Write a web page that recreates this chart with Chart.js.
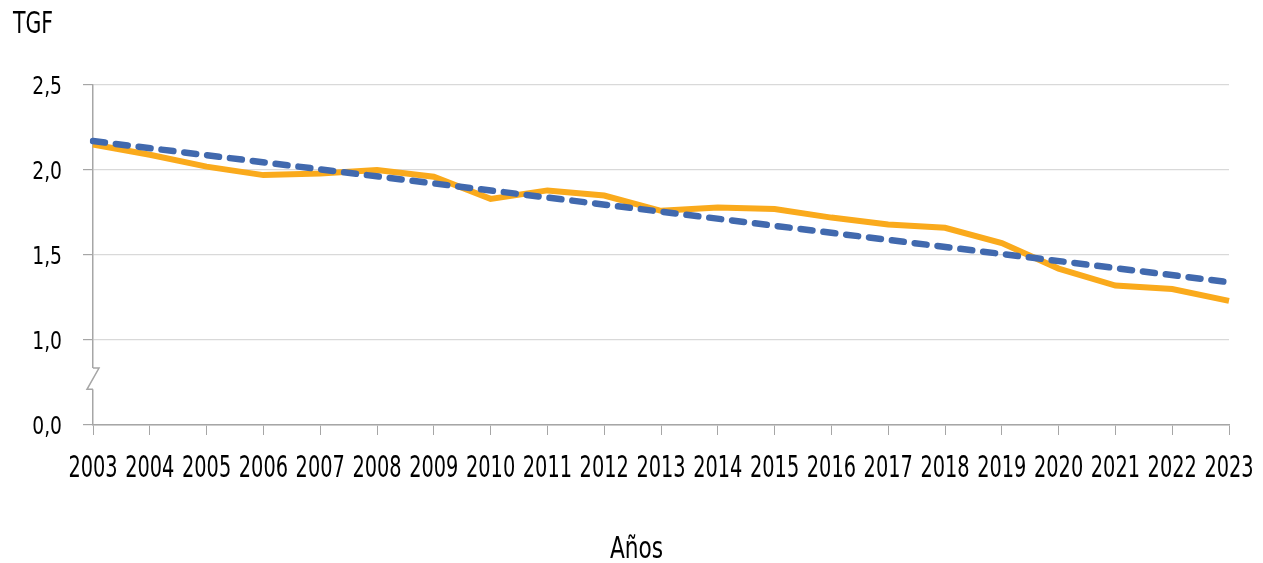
<!DOCTYPE html>
<html>
<head>
<meta charset="utf-8">
<script src="https://cdn.jsdelivr.net/npm/chart.js@4"></script>
<style>
  html, body { margin: 0; padding: 0; background: #fff; }
  #wrap { width: 1263px; height: 563px; position: relative; }
</style>
</head>
<body>
<div id="wrap"><canvas id="chart-tgf"></canvas></div>
<script>
// Datos
const years = ['2003','2004','2005','2006','2007','2008','2009','2010','2011','2012','2013',
  '2014','2015','2016','2017','2018','2019','2020','2021','2022','2023'];
const tgf = [2.15, 2.09, 2.02, 1.97, 1.98, 2.00, 1.96, 1.83, 1.88, 1.85, 1.76,
  1.78, 1.77, 1.72, 1.68, 1.66, 1.57, 1.42, 1.32, 1.30, 1.23];
// tendencia lineal: solo los extremos, la recta se traza entre ellos
const trend = [2.17, null, null, null, null, null, null, null, null, null, null,
  null, null, null, null, null, null, null, null, null, 1.34];
// eje Y cortado: el primer valor se rotula como 0,0
const yTickValues = [0.5, 1.0, 1.5, 2.0, 2.5];
const yTickLabels = ['0,0', '1,0', '1,5', '2,0', '2,5'];
const axisBreak = [0.71, 0.835];

const FONT = '"DejaVu Sans", sans-serif';

// texto estrecho (la fuente original es condensada)
function narrowText(ctx, text, x, y, size, squeeze, align) {
  ctx.save();
  ctx.font = size + 'px ' + FONT;
  ctx.translate(x, y);
  ctx.scale(squeeze, 1);
  ctx.textAlign = align;
  ctx.textBaseline = 'alphabetic';
  ctx.fillText(text, 0, 0);
  ctx.restore();
}

// Rótulos, títulos y corte del eje
const extras = {
  id: 'extras',
  afterDraw(chart) {
    const ctx = chart.ctx;
    const xs = chart.scales.x;
    const ys = chart.scales.y;
    const x0 = chart.chartArea.left;
    ctx.save();
    ctx.fillStyle = '#000';

    narrowText(ctx, 'TGF', 13, 33, 31, 0.66, 'left');
    narrowText(ctx, 'Años', chart.width / 2 + 5, 558, 31, 0.70, 'center');

    xs.ticks.forEach((t, i) => {
      narrowText(ctx, years[i], xs.getPixelForTick(i), 477, 30, 0.645, 'center');
    });
    yTickValues.forEach((v, i) => {
      narrowText(ctx, yTickLabels[i], 62, ys.getPixelForValue(v) + 9, 24, 0.78, 'right');
    });

    const yb = ys.getPixelForValue(axisBreak[0]);
    const yt = ys.getPixelForValue(axisBreak[1]);
    ctx.fillStyle = '#fff';
    ctx.fillRect(x0 - 2, yt, 4, yb - yt);
    ctx.strokeStyle = '#a6a6a6';
    ctx.lineWidth = 1.5;
    ctx.beginPath();
    ctx.moveTo(x0, yt);
    ctx.lineTo(x0 + 6, yt);
    ctx.lineTo(x0 - 6, yb);
    ctx.lineTo(x0, yb);
    ctx.stroke();
    ctx.restore();
  }
};

const ctxTgf = document.getElementById('chart-tgf');
new Chart(ctxTgf, {
  type: 'line',
  data: {
    labels: years,
    datasets: [{
      label: 'TGF',
      data: tgf,
      borderColor: '#FAAA1C',
      borderWidth: 6,
      pointRadius: 0,
      tension: 0,
      order: 1
    }, {
      label: 'Tendencia',
      data: trend,
      borderColor: '#4169AE',
      borderWidth: 6.5,
      borderDash: [12, 11],
      borderCapStyle: 'round',
      pointRadius: 0,
      spanGaps: true,
      order: 0
    }]
  },
  options: {
    responsive: true,
    maintainAspectRatio: false,
    animation: false,
    layout: { padding: { top: 85, right: 34, left: 0, bottom: 0 } },
    plugins: {
      legend: { display: false },
      tooltip: { enabled: false }
    },
    scales: {
      x: {
        offset: false,
        grid: {
          display: true,
          drawOnChartArea: false,
          drawTicks: true,
          tickLength: 10,
          tickColor: '#a6a6a6'
        },
        border: { color: '#a6a6a6', width: 1.5 },
        ticks: { display: false, autoSkip: false, maxRotation: 0 },
        afterFit(scale) { scale.height = 138; }
      },
      y: {
        min: 0.5,
        max: 2.5,
        grid: {
          color: '#d9d9d9',
          lineWidth: 1.2,
          tickLength: 10,
          tickColor: '#a6a6a6'
        },
        border: { color: '#a6a6a6', width: 1.5 },
        afterBuildTicks(scale) {
          scale.ticks = yTickValues.map(v => ({ value: v }));
        },
        ticks: { display: false },
        afterFit(scale) { scale.width = 93; }
      }
    }
  },
  plugins: [extras]
});
</script>
</body>
</html>
